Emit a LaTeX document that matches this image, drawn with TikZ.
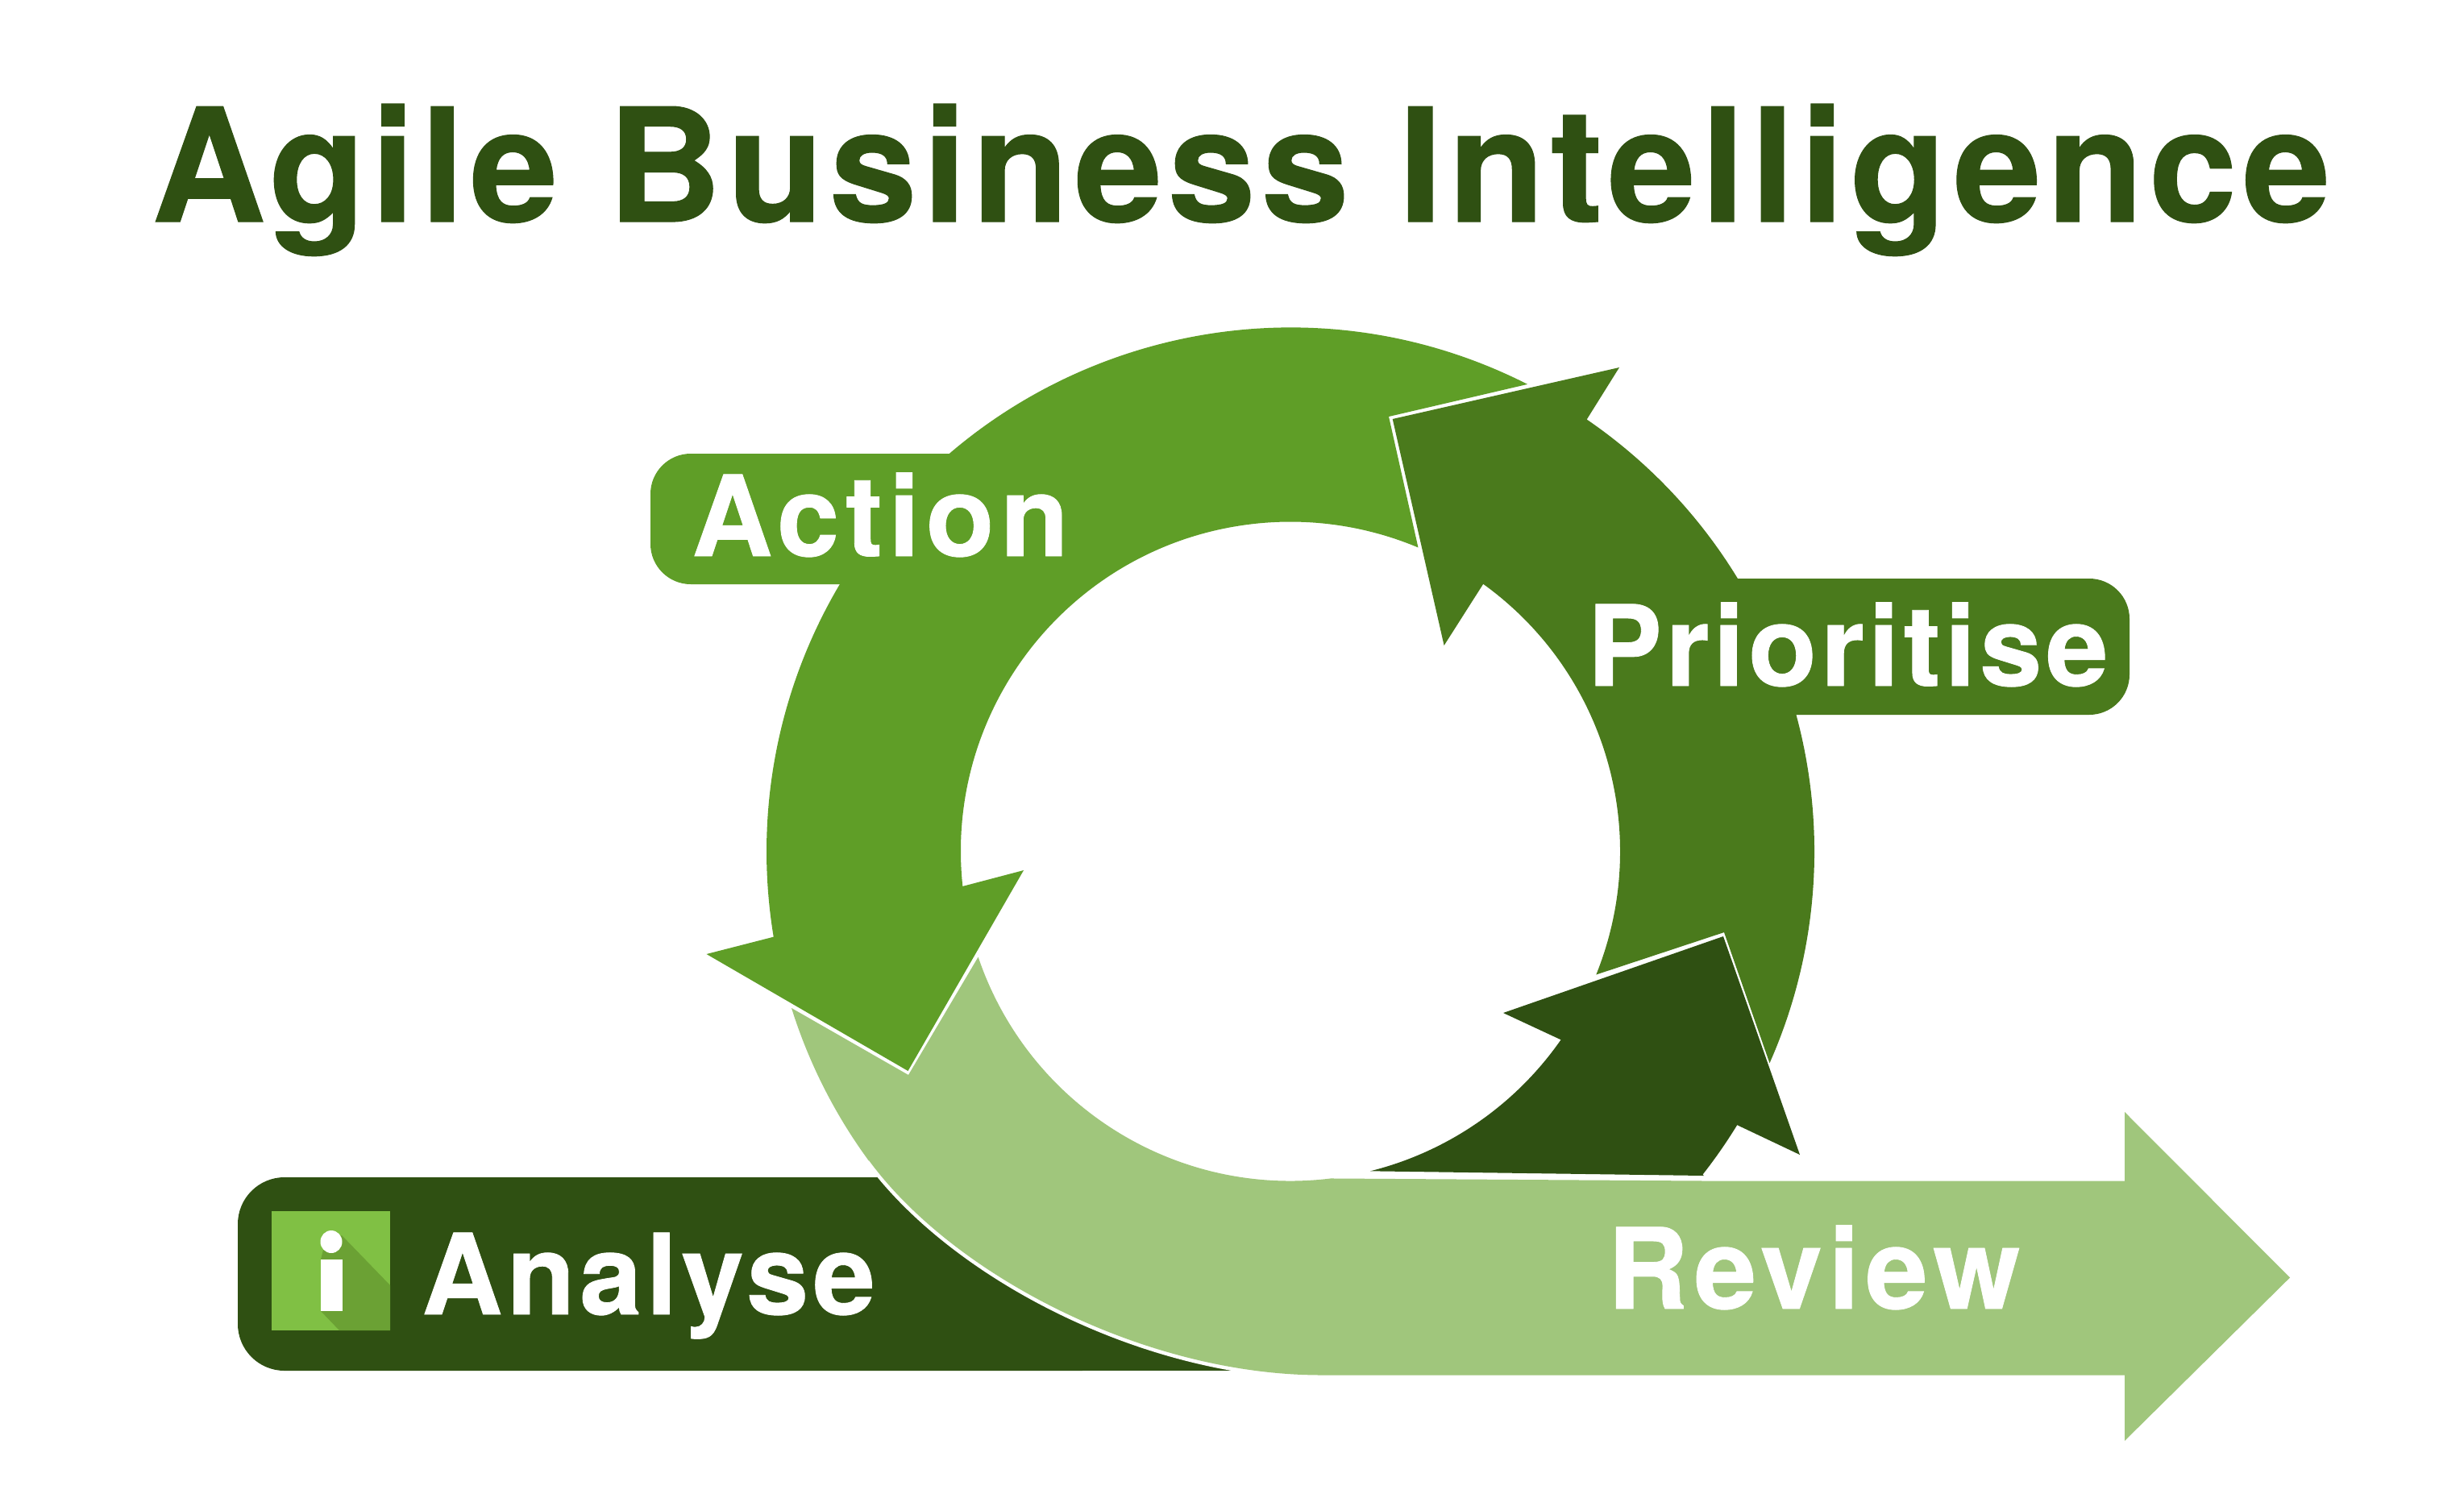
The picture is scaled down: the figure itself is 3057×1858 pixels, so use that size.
\documentclass[tikz,border=0pt]{standalone}
\usepackage{fontspec}
\setmainfont{TeX Gyre Heros}
\definecolor{cdark}{HTML}{2F5012}
\definecolor{cprio}{HTML}{4A7A1C}
\definecolor{caction}{HTML}{5F9E27}
\definecolor{clight}{HTML}{A0C67C}
\definecolor{cicon}{HTML}{80C044}
\definecolor{cshadow}{HTML}{6BA134}
\newfontfamily\lblfont{TeX Gyre Heros}[BoldFeatures={FakeBold=0.6}]
\tikzset{
 lbl/.style={anchor=base west,inner sep=0pt,text=white,font=\fontsize{139}{139}\selectfont\lblfont\bfseries},
 ttl/.style={anchor=base west,inner sep=0pt,text=cdark,font=\fontsize{196}{196}\selectfont\lblfont\bfseries},
 ring/.style={shift={(1601,1056.5)}},
}
\begin{document}
\begin{tikzpicture}[x=1pt,y=1pt,yscale=-1]
\useasboundingbox (0,0) rectangle (3057,1858);
\fill[white] (0,0) rectangle (3057,1858);
\def\R{650pt}\def\r{409pt}
% label bands
\fill[cdark,rounded corners=58pt] (295,1461) rectangle (1400,1701);
\fill[cdark] (1300,1461) rectangle (1535,1701);
\fill[caction,rounded corners=50pt] (807,563) rectangle (1300,725);
\fill[cprio,rounded corners=50pt] (2000,718) rectangle (2642,887);
% white edge next to the review arrow
\draw[white,line width=9pt] (1078,1440) .. controls (1183,1583) and (1421,1706.5) .. (1640,1706.5);
% review arrow
\fill[clight] (982,1251) arc[start angle=162.56,end angle=143.75,radius=\R]
  -- (1078,1440) .. controls (1183,1583) and (1421,1706.5) .. (1640,1706.5)
  -- (2636,1706.5) -- (2636,1788) -- (2841,1585.5) -- (2636,1380) -- (2636,1465.5) -- (2114,1465.5)
  -- ([ring]83:\r) arc[start angle=83,end angle=161.3,radius=\r]
  -- (1127,1334) -- cycle;
% action arrow
\fill[caction] ([ring]-63.1:\R) arc[start angle=-63.1,end angle=-189.4,radius=\R]
  -- (876.5,1184) -- (1126.5,1329) -- (1270,1080) -- (1194,1100)
  -- ([ring]-186.1:\r) arc[start angle=-186.1,end angle=-67.2,radius=\r]
  -- (1723,517) -- cycle;
% prioritise arrow
\fill[cprio] ([ring]23.85:\R) arc[start angle=23.85,end angle=-55.55,radius=\R]
  -- (2009,456) -- (1727.7,520) -- (1791.6,801) -- (1840,725)
  -- ([ring]-54.2:\r) arc[start angle=-54.2,end angle=21.97,radius=\r]
  -- (2139,1157) -- cycle;
% analyse arrow
\fill[cdark] ([ring]34.87:\r) arc[start angle=34.87,end angle=75.98,radius=\r]
  -- (2114,1459) -- ([ring]38.1:\R) arc[start angle=38.1,end angle=31.5,radius=\R]
  -- (2233,1433) -- (2138,1162) -- (1865,1257) -- cycle;
% icon
\fill[cicon] (337,1503) rectangle (484,1651);
\fill[cshadow] (424,1533) -- (484,1595) -- (484,1651) -- (421,1651) -- (398,1627) -- (398,1563) -- (401,1551) -- cycle;
\fill[white] (397.5,1563) rectangle (424.5,1627);
\fill[white] (411,1541) ellipse [x radius=13.5pt,y radius=14pt];
% texts
\node[ttl] (title) at (188,275) {\addfontfeature{LetterSpace=3.55}Agile Business Intelligence};
\node[lbl] (action) at (858,690) {\addfontfeature{LetterSpace=5.4}Action};
\node[lbl] (prio) at (1969,851) {\addfontfeature{LetterSpace=3.5}Prioritise};
\node[lbl] (analyse) at (523,1631) {\addfontfeature{LetterSpace=3.8}Analyse};
\node[lbl] (review) at (1994,1624) {\addfontfeature{LetterSpace=5.3}Review};
\end{tikzpicture}
\end{document}
